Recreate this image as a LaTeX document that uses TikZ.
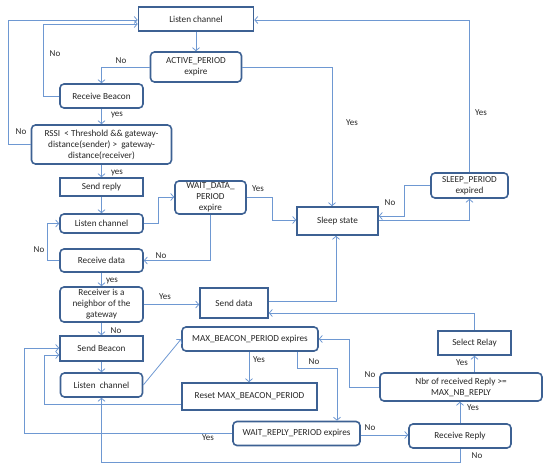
\documentclass[tikz,border=0pt]{standalone}
\usepackage{fontspec}
\setmainfont{Carlito}
\usetikzlibrary{arrows.meta}
\definecolor{boxc}{HTML}{3D6193}
\definecolor{linec}{HTML}{6E98D2}
\tikzset{
  box/.style={draw=boxc, line width=1.6pt, fill=white, align=center, inner sep=1pt,
    font=\fontsize{9.2}{11}\selectfont, text=black!85},
  sbox/.style={box},
  rbox/.style={box, rounded corners=4pt},
  conn/.style={draw=linec, line width=0.8pt, -{Straight Barb[length=3pt,width=7pt]}},
  lbl/.style={font=\fontsize{9}{11}\selectfont, text=black!85, inner sep=0pt}
}
\begin{document}
\begin{tikzpicture}[x=1pt,y=-1pt]
\useasboundingbox (0,0) rectangle (550,470);
% nodes
\node[sbox, minimum width=115, minimum height=24] (lc1) at (196,19) {Listen channel};
\node[rbox, minimum width=91, minimum height=30] (ap) at (196,67) {ACTIVE\_PERIOD\\expire};
\node[rbox, minimum width=83, minimum height=24] (rb) at (101.5,96) {Receive Beacon};
\node[rbox, minimum width=140, minimum height=39] (rssi) at (101.5,144.5) {RSSI~ {<} Threshold \&\& gateway-\\distance(sender) {>}~ gateway-\\distance(receiver)};
\node[sbox, minimum width=83, minimum height=18] (sr) at (101.5,187) {Send reply};
\node[rbox, minimum width=83, minimum height=19] (lc2) at (101.5,223.5) {Listen channel};
\node[rbox, minimum width=71, minimum height=33] (wd) at (210.5,197.5) {WAIT\_DATA\_\\PERIOD\\expire};
\node[rbox, minimum width=83, minimum height=23] (rd) at (101.5,260.5) {Receive data};
\node[rbox, minimum width=83, minimum height=35] (rn) at (101.5,304.5) {Receiver is a\\neighbor of the\\gateway};
\node[sbox, minimum width=68, minimum height=30] (sd) at (234,303) {Send data};
\node[sbox, minimum width=81, minimum height=28] (ss) at (337.5,221) {Sleep state};
\node[rbox, minimum width=77, minimum height=25] (sp) at (469.5,185.5) {SLEEP\_PERIOD\\expired};
\node[sbox, minimum width=83, minimum height=25] (sb) at (101.5,348.5) {Send Beacon};
\node[rbox, minimum width=82, minimum height=24] (lc3) at (101.5,385) {Listen~ channel};
\node[rbox, minimum width=136, minimum height=24] (mb) at (250,339) {MAX\_BEACON\_PERIOD expires};
\node[sbox, minimum width=135, minimum height=27] (rst) at (249.5,396.5) {Reset MAX\_BEACON\_PERIOD};
\node[rbox, minimum width=127, minimum height=24] (wr) at (296.5,433.5) {WAIT\_REPLY\_PERIOD expires};
\node[rbox, minimum width=102, minimum height=24] (rr) at (460,436) {Receive Reply};
\node[rbox, minimum width=162, minimum height=28] (nbr) at (461,387) {Nbr of received Reply {>}=\\MAX\_NB\_REPLY};
\node[sbox, minimum width=73, minimum height=24] (sel) at (474.5,343) {Select Relay};
% connectors
\draw[conn] (lc1.south) -- (ap.north);
\draw[conn] (ap.west) -| (rb.north);
\draw[conn] (ap.east) -| (ss.north -| 332,0);
\draw[conn] (rb.west) -| (43,24) -- (lc1.west |- 0,24);
\draw[conn] (rb.south) -- (rssi.north);
\draw[conn] (rssi.west) -| (8,20) -- (lc1.west |- 0,20);
\draw[conn] (rssi.south) -- (sr.north);
\draw[conn] (sr.south) -- (lc2.north);
\draw[conn] (lc2.east) -| (158,197) -- (wd.west |- 0,197);
\draw[conn] (wd.south) |- (rd.east);
\draw[conn] (wd.east |- 0,197) -| (272,220) -- (ss.west |- 0,220);
\draw[conn] (rd.west) -| (47,223.5) -- (lc2.west);
\draw[conn] (rd.south) -- (rn.north);
\draw[conn] (rn.east) -- (sd.west |- rn.east);
\draw[conn] (rn.south) -- (sb.north);
\draw[conn] (sb.south) -- (lc3.north);
\draw[conn] (lc3.east) -- (mb.west);
\draw[conn] (mb.south -| 249,0) -- (rst.north -| 249,0);
\draw[conn] (mb.south -| 297,0) |- (337,368) -- (wr.north -| 337,0);
\draw[conn] (rst.west |- 0,404) -| (44,355) -- (sb.west |- 0,355);
\draw[conn] (wr.west) -| (24,348) -- (sb.west |- 0,348);
\draw[conn] (wr.east |- 0,435) -- (rr.west |- 0,435);
\draw[conn] (rr.south) |- (101.5,462) -- (lc3.south);
\draw[conn] (rr.north) -- (nbr.south -| rr.north);
\draw[conn] (nbr.north -| 474.5,0) -- (sel.south);
\draw[conn] (nbr.west) -| (349,339) -- (mb.east |- 0,339);
\draw[conn] (sel.north) |- (sd.east |- 0,313);
\draw[conn] (sd.east |- 0,301) -| (ss.south -| 336,0);
\draw[conn] (ss.east |- 0,220) -| (sp.south);
\draw[conn] (sp.west) -| (404,216) -- (ss.east |- 0,216);
\draw[conn] (sp.north) |- (lc1.east |- 0,20);
% labels
\node[lbl] (l1) at (121,61) {No};
\node[lbl] (l2) at (352,123) {Yes};
\node[lbl] (l3) at (55,54) {No};
\node[lbl] (l4) at (117,115) {yes};
\node[lbl] (l5) at (21,132) {No};
\node[lbl] (l6) at (117,173) {yes};
\node[lbl] (l7) at (161,256) {No};
\node[lbl] (l8) at (258,189) {Yes};
\node[lbl] (l9) at (39,250) {No};
\node[lbl] (l10) at (112,281) {yes};
\node[lbl] (l11) at (165,297) {Yes};
\node[lbl] (l12) at (116,331) {No};
\node[lbl] (l13) at (259,360) {Yes};
\node[lbl] (l14) at (314,362) {No};
\node[lbl] (l15) at (208,438) {Yes};
\node[lbl] (l16) at (370,428) {No};
\node[lbl] (l17) at (477,456) {No};
\node[lbl] (l18) at (473,408) {Yes};
\node[lbl] (l19) at (462,363) {Yes};
\node[lbl] (l20) at (370,375) {No};
\node[lbl] (l21) at (390,203) {No};
\node[lbl] (l22) at (481,113) {Yes};
\end{tikzpicture}
\end{document}
